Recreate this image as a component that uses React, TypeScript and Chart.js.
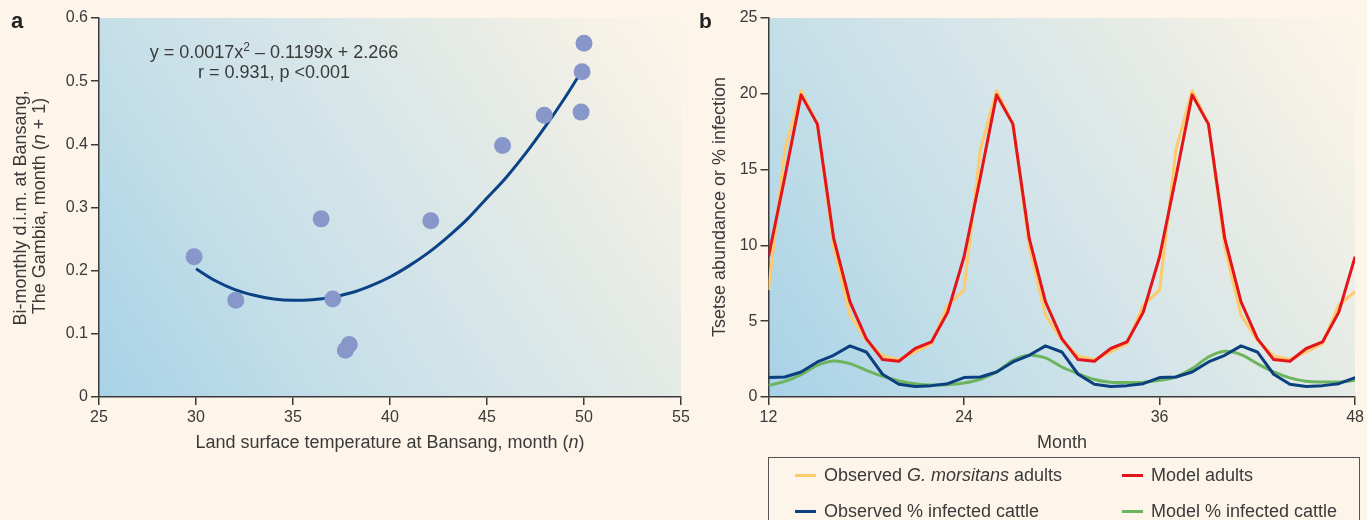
import React, { useEffect, useRef } from 'react';
import { Chart, registerables } from 'chart.js';

Chart.register(...registerables);

const FONT = "'Liberation Sans', Arial, sans-serif";
const PAGE_BG = '#fdf5ea';
const TEXT = '#3a3a3a';
const AXIS = '#3b3b3b';

// ---------- Panel a data ----------
const tempX = [29.9, 32.05, 36.45, 37.05, 37.7, 37.9, 42.1, 45.8, 47.95, 49.85, 49.9, 50.0];
const dimY = [0.222, 0.153, 0.282, 0.155, 0.074, 0.083, 0.279, 0.398, 0.446, 0.451, 0.515, 0.56];
const fitX = [30, 31, 32, 33, 34, 35, 36, 37, 38, 39, 40, 41, 42, 43, 44, 45, 46, 47, 48, 49, 49.7];
const fitY = [0.203, 0.184, 0.17, 0.161, 0.155, 0.153, 0.154, 0.158, 0.165, 0.176, 0.19, 0.208, 0.229, 0.254, 0.282, 0.315, 0.348, 0.386, 0.428, 0.473, 0.507];
const xTicksA = [25, 30, 35, 40, 45, 50, 55];
const yTicksA = [0, 0.1, 0.2, 0.3, 0.4, 0.5, 0.6];

// ---------- Panel b data ----------
const months = [12, 13, 14, 15, 16, 17, 18, 19, 20, 21, 22, 23, 24, 25, 26, 27, 28, 29, 30, 31, 32, 33, 34, 35, 36, 37, 38, 39, 40, 41, 42, 43, 44, 45, 46, 47, 48];
const obsAdults = [7.05, 16.3, 20.2, 18.0, 9.9, 5.4, 3.75, 2.7, 2.47, 2.97, 3.52, 6.06, 7.05, 16.3, 20.2, 18.0, 9.9, 5.4, 3.75, 2.7, 2.47, 2.97, 3.52, 6.06, 7.05, 16.3, 20.2, 18.0, 9.9, 5.4, 3.75, 2.7, 2.47, 2.97, 3.52, 6.06, 6.95];
const modelAdults = [9.25, 14.5, 19.93, 18.0, 10.46, 6.28, 3.85, 2.47, 2.36, 3.2, 3.63, 5.6, 9.25, 14.5, 19.93, 18.0, 10.46, 6.28, 3.85, 2.47, 2.36, 3.2, 3.63, 5.6, 9.25, 14.5, 19.93, 18.0, 10.46, 6.28, 3.85, 2.47, 2.36, 3.2, 3.63, 5.6, 9.25];
const obsInfected = [1.28, 1.32, 1.65, 2.31, 2.75, 3.37, 2.97, 1.5, 0.84, 0.7, 0.75, 0.88, 1.28, 1.32, 1.65, 2.31, 2.75, 3.37, 2.97, 1.5, 0.84, 0.7, 0.75, 0.88, 1.28, 1.32, 1.65, 2.31, 2.75, 3.37, 2.97, 1.5, 0.84, 0.7, 0.75, 0.88, 1.28];
const modelInfected = [0.77, 1.03, 1.48, 2.09, 2.38, 2.2, 1.76, 1.37, 1.06, 0.88, 0.79, 0.81, 0.92, 1.17, 1.65, 2.42, 2.75, 2.58, 1.98, 1.54, 1.15, 0.97, 0.95, 0.97, 1.1, 1.32, 1.87, 2.64, 3.02, 2.8, 2.2, 1.65, 1.26, 1.04, 0.99, 0.99, 1.1];
const xTicksB = [12, 24, 36, 48];
const yTicksB = [0, 5, 10, 15, 20, 25];

const YELLOW = '#fdca6c';
const RED = '#e2141c';
const NAVY = '#0b3f7f';
const GREEN = '#6db45f';
const DOT = '#8797c9';
const CURVE = '#0a4285';

type Run = { t: string; italic?: boolean; sup?: boolean };

function runFont(r: Run, size: number, weight = 'normal') {
  const s = r.sup ? Math.round(size * 0.68) : size;
  return `${r.italic ? 'italic ' : ''}${weight} ${s}px ${FONT}`;
}

function drawRuns(ctx: CanvasRenderingContext2D, runs: Run[], size: number, cx: number, baseline: number, rotate = false) {
  ctx.save();
  ctx.fillStyle = TEXT;
  ctx.textBaseline = 'alphabetic';
  ctx.textAlign = 'left';
  let total = 0;
  const widths = runs.map((r) => {
    ctx.font = runFont(r, size);
    const w = ctx.measureText(r.t).width;
    total += w;
    return w;
  });
  if (rotate) {
    ctx.translate(baseline, cx);
    ctx.rotate(-Math.PI / 2);
  } else {
    ctx.translate(cx, baseline);
  }
  let x = -total / 2;
  runs.forEach((r, i) => {
    ctx.font = runFont(r, size);
    ctx.fillText(r.t, x, r.sup ? -size * 0.38 : 0);
    x += widths[i];
  });
  ctx.restore();
}

function bgGradient(chart: any) {
  const { ctx, chartArea: a } = chart;
  const g = ctx.createLinearGradient(a.left, a.bottom, a.right, a.top);
  g.addColorStop(0, '#a8d2e7');
  g.addColorStop(0.3, '#c5dfe8');
  g.addColorStop(0.5, '#d5e5e9');
  g.addColorStop(0.72, '#e6ebe5');
  g.addColorStop(0.9, '#f6f2e8');
  g.addColorStop(1, '#fcf5ea');
  ctx.save();
  ctx.fillStyle = g;
  ctx.fillRect(a.left, a.top, a.right - a.left, a.bottom - a.top);
  ctx.restore();
}

function axisCommon(ticksArr: number[], fitProp: 'width' | 'height', fitVal: number) {
  return {
    type: 'linear' as const,
    min: ticksArr[0],
    max: ticksArr[ticksArr.length - 1],
    afterBuildTicks: (s: any) => {
      s.ticks = ticksArr.map((v) => ({ value: v }));
    },
    afterFit: (s: any) => {
      s[fitProp] = fitVal;
    },
    ticks: {
      font: { family: FONT, size: 16 },
      color: TEXT,
      padding: 3,
      callback: (v: any) => String(v),
    },
    grid: { drawOnChartArea: false, drawTicks: true, tickLength: 8, color: AXIS, lineWidth: 1.5 },
    border: { display: true, color: AXIS, width: 1.5 },
  };
}

function PanelA() {
  const ref = useRef<HTMLCanvasElement>(null);
  useEffect(() => {
    const points = tempX.map((x, i) => ({ x, y: dimY[i] }));
    const curve = fitX.map((x, i) => ({ x, y: fitY[i] }));
    const chart = new Chart(ref.current!, {
      type: 'scatter',
      data: {
        datasets: [
          {
            type: 'scatter',
            data: points,
            backgroundColor: DOT,
            borderWidth: 0,
            pointRadius: 8.5,
            order: 0,
          },
          {
            type: 'line',
            data: curve,
            borderColor: CURVE,
            borderWidth: 3,
            pointRadius: 0,
            tension: 0.4,
            cubicInterpolationMode: 'monotone',
            fill: false,
            order: 1,
          } as any,
        ],
      },
      options: {
        animation: false,
        responsive: false,
        layout: { padding: { top: 18, right: 19, left: 0, bottom: 0 } },
        plugins: { legend: { display: false }, tooltip: { enabled: false } },
        scales: {
          x: axisCommon(xTicksA, 'height', 63) as any,
          y: axisCommon(yTicksA, 'width', 99) as any,
        },
      },
      plugins: [
        {
          id: 'decorA',
          beforeDraw: (c: any) => bgGradient(c),
          afterDraw: (c: any) => {
            const ctx = c.ctx as CanvasRenderingContext2D;
            drawRuns(ctx, [{ t: 'y = 0.0017x' }, { t: '2', sup: true }, { t: ' – 0.1199x + 2.266' }], 18, 274, 57.5);
            drawRuns(ctx, [{ t: 'r = 0.931, p <0.001' }], 18, 274, 77.5);
            drawRuns(ctx, [{ t: 'Land surface temperature at Bansang, month (' }, { t: 'n', italic: true }, { t: ')' }], 18, 390, 448);
            drawRuns(ctx, [{ t: 'Bi-monthly d.i.m. at Bansang,' }], 18, 208, 25.5, true);
            drawRuns(ctx, [{ t: 'The Gambia, month (' }, { t: 'n', italic: true }, { t: ' + 1)' }], 18, 206, 44.5, true);
            ctx.save();
            ctx.fillStyle = '#222';
            ctx.font = `bold 22px ${FONT}`;
            ctx.textBaseline = 'alphabetic';
            ctx.fillText('a', 11, 28);
            ctx.restore();
          },
        },
      ],
    });
    return () => chart.destroy();
  }, []);
  return <canvas ref={ref} width={700} height={460} style={{ position: 'absolute', left: 0, top: 0, width: 700, height: 460 }} />;
}

function PanelB() {
  const ref = useRef<HTMLCanvasElement>(null);
  useEffect(() => {
    const mk = (arr: number[]) => months.map((m, i) => ({ x: m, y: arr[i] }));
    const line = (label: string, arr: number[], color: string, order: number, tension = 0) => ({
      type: 'line',
      label,
      data: mk(arr),
      borderColor: color,
      borderWidth: 3,
      pointRadius: 0,
      tension,
      fill: false,
      order,
      borderJoinStyle: 'round',
    });
    const chart = new Chart(ref.current!, {
      type: 'line',
      data: {
        datasets: [
          line('Observed G. morsitans adults', obsAdults, YELLOW, 3),
          line('Model adults', modelAdults, RED, 1),
          line('Model % infected cattle', modelInfected, GREEN, 2, 0.3),
          line('Observed % infected cattle', obsInfected, NAVY, 0),
        ] as any,
      },
      options: {
        animation: false,
        responsive: false,
        layout: { padding: { top: 18, right: 10, left: 0, bottom: 0 } },
        plugins: { legend: { display: false }, tooltip: { enabled: false } },
        scales: {
          x: axisCommon(xTicksB, 'height', 63) as any,
          y: axisCommon(yTicksB, 'width', 68.5) as any,
        },
      },
      plugins: [
        {
          id: 'decorB',
          beforeDraw: (c: any) => bgGradient(c),
          afterDraw: (c: any) => {
            const ctx = c.ctx as CanvasRenderingContext2D;
            drawRuns(ctx, [{ t: 'Month' }], 18, 362, 448);
            drawRuns(ctx, [{ t: 'Tsetse abundance or % infection' }], 18, 207, 25, true);
            ctx.save();
            ctx.fillStyle = '#222';
            ctx.font = `bold 21px ${FONT}`;
            ctx.textBaseline = 'alphabetic';
            ctx.fillText('b', -1, 28);
            ctx.restore();
          },
        },
      ],
    });
    return () => chart.destroy();
  }, []);
  return <canvas ref={ref} width={667} height={460} style={{ position: 'absolute', left: 700, top: 0, width: 667, height: 460 }} />;
}

const legendItems: { runs: Run[]; color: string; col: number; row: number }[] = [
  { runs: [{ t: 'Observed ' }, { t: 'G. morsitans', italic: true }, { t: ' adults' }], color: YELLOW, col: 0, row: 0 },
  { runs: [{ t: 'Model adults' }], color: RED, col: 1, row: 0 },
  { runs: [{ t: 'Observed % infected cattle' }], color: NAVY, col: 0, row: 1 },
  { runs: [{ t: 'Model % infected cattle' }], color: GREEN, col: 1, row: 1 },
];

function Legend() {
  const colSw = [26, 353];
  const rowC = [17, 53];
  return (
    <div
      style={{
        position: 'absolute',
        left: 768,
        top: 457,
        width: 592,
        height: 100,
        border: '1.5px solid #555',
        boxSizing: 'border-box',
        fontFamily: FONT,
        fontSize: 18,
        color: TEXT,
      }}
    >
      {legendItems.map((it, i) => (
        <React.Fragment key={i}>
          <div
            style={{
              position: 'absolute',
              left: colSw[it.col],
              top: rowC[it.row] - 1.5,
              width: 21,
              height: 3,
              background: it.color,
            }}
          />
          <div
            style={{
              position: 'absolute',
              left: colSw[it.col] + 29,
              top: rowC[it.row] - 11,
              lineHeight: '22px',
              whiteSpace: 'nowrap',
            }}
          >
            {it.runs.map((r, j) => (
              <span key={j} style={{ fontStyle: r.italic ? 'italic' : 'normal' }}>
                {r.t}
              </span>
            ))}
          </div>
        </React.Fragment>
      ))}
    </div>
  );
}

export default function App() {
  return (
    <div
      style={{
        position: 'absolute',
        left: 0,
        top: 0,
        width: 1367,
        height: 520,
        overflow: 'hidden',
        background: PAGE_BG,
      }}
    >
      <PanelA />
      <PanelB />
      <Legend />
    </div>
  );
}
